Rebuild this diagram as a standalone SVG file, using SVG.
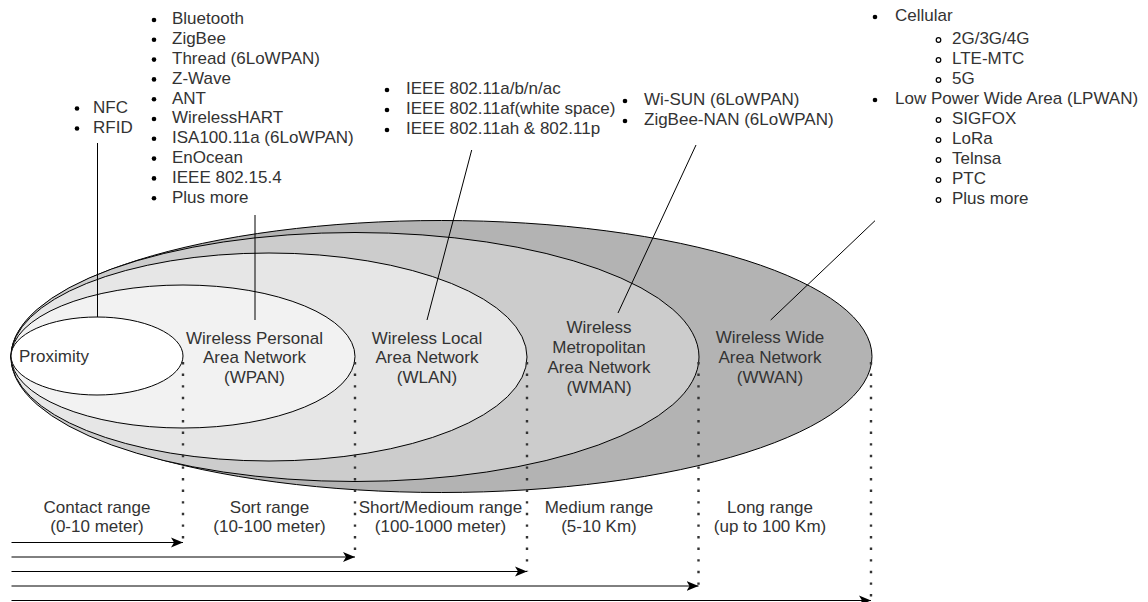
<svg xmlns="http://www.w3.org/2000/svg" width="1148" height="602" viewBox="0 0 1148 602">
<style>
text{font-family:"Liberation Sans",Arial,Helvetica,sans-serif;font-size:17px;fill:#333}
.c{text-anchor:middle}
.el{stroke:#000;stroke-width:1}
.ln{stroke:#000;stroke-width:1;fill:none}
.dot{stroke:#333;stroke-width:2.4;stroke-dasharray:2.4 9.2;fill:none}
.b{fill:#000}
.sb{fill:none;stroke:#000;stroke-width:1.2}
</style>
<defs>
<marker id="arr" markerUnits="userSpaceOnUse" markerWidth="14" markerHeight="12" refX="12" refY="6" orient="auto">
<path d="M0,1 L12,6 L0,11 L3,6 Z" fill="#000"/>
</marker>
</defs>
<rect width="1148" height="602" fill="#fff"/>

<g id="wwan">
<ellipse class="el" cx="441.5" cy="356.5" rx="430.5" ry="136" fill="#b3b3b3"/>
<text class="c" x="770" y="343.4">Wireless Wide</text>
<text class="c" x="770" y="363.4">Area Network</text>
<text class="c" x="770" y="383.4">(WWAN)</text>
</g>
<g id="wman">
<ellipse class="el" cx="355" cy="357" rx="344" ry="124.5" fill="#cccccc"/>
<text class="c" x="599" y="333.4">Wireless</text>
<text class="c" x="599" y="352.8">Metropolitan</text>
<text class="c" x="599" y="372.8">Area Network</text>
<text class="c" x="599" y="392.8">(WMAN)</text>
</g>
<g id="wlan">
<ellipse class="el" cx="269" cy="357" rx="258" ry="104" fill="#e6e6e6"/>
<text class="c" x="427" y="343.8">Wireless Local</text>
<text class="c" x="427" y="362.8">Area Network</text>
<text class="c" x="427" y="382.8">(WLAN)</text>
</g>
<g id="wpan">
<ellipse class="el" cx="183" cy="356.5" rx="172" ry="71.5" fill="#f2f2f2"/>
<text class="c" x="254.5" y="343.8">Wireless Personal</text>
<text class="c" x="254.5" y="362.8">Area Network</text>
<text class="c" x="254.5" y="382.8">(WPAN)</text>
</g>
<g id="proximity">
<ellipse class="el" cx="97" cy="356" rx="86" ry="39" fill="#fff"/>
<text x="19" y="362">Proximity</text>
</g>

<g id="list-nfc">
<circle class="b" cx="77" cy="108.5" r="2.3"/>
<circle class="b" cx="77" cy="128.5" r="2.3"/>
<text x="93" y="112.8">NFC</text>
<text x="93" y="132.8">RFID</text>
</g>

<g id="list-wpan">
<circle class="b" cx="154" cy="20" r="2.3"/>
<circle class="b" cx="154" cy="39.8" r="2.3"/>
<circle class="b" cx="154" cy="59.6" r="2.3"/>
<circle class="b" cx="154" cy="79.4" r="2.3"/>
<circle class="b" cx="154" cy="99.2" r="2.3"/>
<circle class="b" cx="154" cy="119" r="2.3"/>
<circle class="b" cx="154" cy="138.8" r="2.3"/>
<circle class="b" cx="154" cy="158.6" r="2.3"/>
<circle class="b" cx="154" cy="178.4" r="2.3"/>
<circle class="b" cx="154" cy="198.2" r="2.3"/>
<text x="172" y="24.4">Bluetooth</text>
<text x="172" y="44.2">ZigBee</text>
<text x="172" y="64">Thread (6LoWPAN)</text>
<text x="172" y="83.8">Z-Wave</text>
<text x="172" y="103.6">ANT</text>
<text x="172" y="123.4">WirelessHART</text>
<text x="172" y="143.2">ISA100.11a (6LoWPAN)</text>
<text x="172" y="163">EnOcean</text>
<text x="172" y="182.8">IEEE 802.15.4</text>
<text x="172" y="202.6">Plus more</text>
</g>

<g id="list-wlan">
<circle class="b" cx="387" cy="90" r="2.3"/>
<circle class="b" cx="387" cy="110" r="2.3"/>
<circle class="b" cx="387" cy="130" r="2.3"/>
<text x="406" y="94.4">IEEE 802.11a/b/n/ac</text>
<text x="406" y="114.4">IEEE 802.11af(white space)</text>
<text x="406" y="134.4">IEEE 802.11ah &amp; 802.11p</text>
</g>

<g id="list-wman">
<circle class="b" cx="625" cy="101" r="2.3"/>
<circle class="b" cx="625" cy="121" r="2.3"/>
<text x="644" y="105.4">Wi-SUN (6LoWPAN)</text>
<text x="644" y="125.4">ZigBee-NAN (6LoWPAN)</text>
</g>

<g id="list-wwan">
<circle class="b" cx="875" cy="17" r="2.3"/>
<circle class="b" cx="875" cy="100" r="2.3"/>
<circle class="sb" cx="938.5" cy="40" r="2.3"/>
<circle class="sb" cx="938.5" cy="60" r="2.3"/>
<circle class="sb" cx="938.5" cy="80" r="2.3"/>
<circle class="sb" cx="938.5" cy="120" r="2.3"/>
<circle class="sb" cx="938.5" cy="140" r="2.3"/>
<circle class="sb" cx="938.5" cy="160" r="2.3"/>
<circle class="sb" cx="938.5" cy="180" r="2.3"/>
<circle class="sb" cx="938.5" cy="200" r="2.3"/>
<text x="895" y="21">Cellular</text>
<text x="952" y="44.4">2G/3G/4G</text>
<text x="952" y="64.4">LTE-MTC</text>
<text x="952" y="84.4">5G</text>
<text x="895" y="104.4">Low Power Wide Area (LPWAN)</text>
<text x="952" y="124.4">SIGFOX</text>
<text x="952" y="144.4">LoRa</text>
<text x="952" y="164.4">Telnsa</text>
<text x="952" y="184.4">PTC</text>
<text x="952" y="204.4">Plus more</text>
</g>

<g id="ranges">
<text class="c" x="97" y="512.8">Contact range</text>
<text class="c" x="97" y="531.8">(0-10 meter)</text>
<text class="c" x="269.5" y="512.8">Sort range</text>
<text class="c" x="269.5" y="531.8">(10-100 meter)</text>
<text class="c" x="440.5" y="512.8">Short/Medioum range</text>
<text class="c" x="440.5" y="531.8">(100-1000 meter)</text>
<text class="c" x="599" y="512.8">Medium range</text>
<text class="c" x="599" y="531.8">(5-10 Km)</text>
<text class="c" x="770" y="512.8">Long range</text>
<text class="c" x="770" y="531.8">(up to 100 Km)</text>
</g>

<g id="connectors">
<line class="ln" x1="97.5" y1="143" x2="97.5" y2="317"/>
<line class="ln" x1="255" y1="215" x2="255" y2="320"/>
<line class="ln" x1="471.7" y1="150" x2="427" y2="320"/>
<line class="ln" x1="696" y1="145" x2="618" y2="313"/>
<line class="ln" x1="875" y1="220.7" x2="770.7" y2="320"/>

<line class="dot" x1="183" y1="362" x2="183" y2="542"/>
<line class="dot" x1="355" y1="362" x2="355" y2="557"/>
<line class="dot" x1="527" y1="362" x2="527" y2="571.5"/>
<line class="dot" x1="698.5" y1="362" x2="698.5" y2="586"/>
<line class="dot" x1="871" y1="362" x2="871" y2="600.5"/>

<line class="ln" x1="11.5" y1="542.5" x2="183" y2="542.5" marker-end="url(#arr)"/>
<line class="ln" x1="11.5" y1="557" x2="355" y2="557" marker-end="url(#arr)"/>
<line class="ln" x1="11.5" y1="571.5" x2="527" y2="571.5" marker-end="url(#arr)"/>
<line class="ln" x1="11.5" y1="586" x2="698.5" y2="586" marker-end="url(#arr)"/>
<line class="ln" x1="11.5" y1="600.5" x2="871" y2="600.5" marker-end="url(#arr)"/>
</g>
</svg>
